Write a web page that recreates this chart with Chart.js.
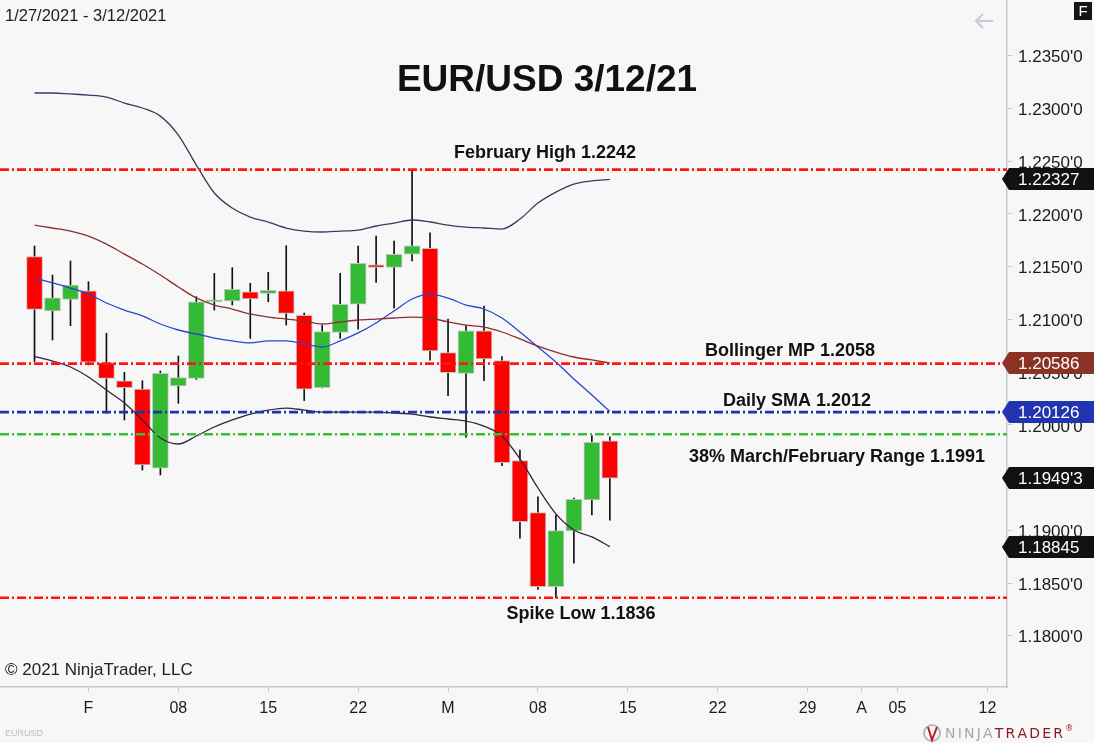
<!DOCTYPE html>
<html>
<head>
<meta charset="utf-8">
<script src="https://cdn.jsdelivr.net/npm/chart.js@4.4.1/dist/chart.umd.min.js"></script>
<style>
  html, body { margin: 0; padding: 0; background: #f7f7f7; }
  #wrap { width: 1094px; height: 743px; }
</style>
</head>
<body>
<div id="wrap"><canvas id="eurusd" width="1094" height="743"></canvas></div>
<script>
// trading days shown on the chart (x = index)
var dates = ["01-27","01-28","01-29","02-01","02-02","02-03","02-04","02-05","02-08","02-09","02-10","02-11","02-12",
  "02-15","02-16","02-17","02-18","02-19","02-22","02-23","02-24","02-25","02-26","03-01","03-02","03-03","03-04","03-05",
  "03-08","03-09","03-10","03-11","03-12"];

var open  = [1.21594,1.21079,1.21190,1.21271,1.20589,1.20418,1.20339,1.19588,1.20368,1.20441,1.21165,1.21174,1.21262,
  1.21247,1.21271,1.21038,1.20352,1.20877,1.21143,1.21518,1.21493,1.21619,1.21673,1.20684,1.20488,1.20892,1.20608,1.19660,
  1.19167,1.18465,1.18993,1.19287,1.19849];
var high  = [1.21695,1.21420,1.21553,1.21357,1.20868,1.20498,1.20418,1.20510,1.20652,1.21215,1.21436,1.21490,1.21342,
  1.21446,1.21698,1.21060,1.20942,1.21436,1.21695,1.21790,1.21743,1.22420,1.21821,1.21003,1.20940,1.21126,1.20646,1.19761,
  1.19318,1.19145,1.19306,1.19897,1.19887];
var low   = [1.20600,1.20804,1.20940,1.20567,1.20109,1.20046,1.19571,1.19524,1.20204,1.20430,1.21088,1.21136,1.20820,
  1.21167,1.20946,1.20230,1.20349,1.20820,1.20908,1.21351,1.21105,1.21553,1.20614,1.20276,1.19884,1.20418,1.19612,1.18924,
  1.18440,1.18358,1.18687,1.19145,1.19097];
var close = [1.21095,1.21205,1.21325,1.20593,1.20441,1.20352,1.19619,1.20488,1.20447,1.21167,1.21180,1.21285,1.21193,
  1.21275,1.21057,1.20338,1.20883,1.21143,1.21531,1.21493,1.21617,1.21698,1.20700,1.20494,1.20892,1.20624,1.19641,1.19081,
  1.18465,1.18996,1.19294,1.19834,1.19493];

// indicators
var bbUpper = [1.23146,1.23146,1.23137,1.23127,1.23108,1.23051,1.23004,1.22927,1.22747,1.22463,1.22198,1.22055,1.21970,
  1.21923,1.21866,1.21837,1.21828,1.21837,1.21847,1.21885,1.21913,1.21942,1.21923,1.21894,1.21875,1.21866,1.21856,1.21951,
  1.22103,1.22207,1.22283,1.22312,1.22327];
var bbMid = [1.21894,1.21866,1.21837,1.21790,1.21714,1.21619,1.21525,1.21420,1.21307,1.21203,1.21136,1.21098,1.21051,
  1.21022,1.21003,1.20984,1.20956,1.20975,1.20994,1.21003,1.21013,1.21022,1.21013,1.20975,1.20946,1.20927,1.20880,1.20814,
  1.20747,1.20690,1.20643,1.20615,1.20586];
var bbLower = [1.20650,1.20605,1.20548,1.20453,1.20330,1.20207,1.20046,1.19875,1.19818,1.19894,1.19979,1.20046,1.20102,
  1.20140,1.20159,1.20140,1.20121,1.20121,1.20121,1.20121,1.20112,1.20102,1.20074,1.20055,1.20036,1.19988,1.19894,1.19677,
  1.19401,1.19155,1.19003,1.18937,1.18845];
var sma = [1.21392,1.21345,1.21297,1.21240,1.21155,1.21088,1.21032,1.20956,1.20899,1.20861,1.20823,1.20795,1.20776,
  1.20795,1.20795,1.20766,1.20738,1.20795,1.20871,1.20966,1.21079,1.21193,1.21240,1.21202,1.21136,1.21098,1.21013,1.20880,
  1.20738,1.20596,1.20435,1.20283,1.20126];

// horizontal levels
var levelValues = [1.2242, 1.2058, 1.2012, 1.1991, 1.1836];
var levelLabels = ["February High 1.2242", "Bollinger MP 1.2058", "Daily SMA 1.2012",
  "38% March/February Range 1.1991", "Spike Low 1.1836"];

// right-edge value markers
var markerValues = [1.22327, 1.20586, 1.20126, 1.19493, 1.18845];
var markerLabels = ["1.22327", "1.20586", "1.20126", "1.1949'3", "1.18845"];

// axis ticks
var xTickIdx = [3, 8, 13, 18, 23, 28, 33, 38, 43, 46, 48, 53];
var xTickLabels = ["F", "08", "15", "22", "M", "08", "15", "22", "29", "A", "05", "12"];
var yTicks = [1.1800, 1.1850, 1.1900, 1.1950, 1.2000, 1.2050, 1.2100, 1.2150, 1.2200, 1.2250, 1.2300, 1.2350];

var X_MIN = -1.92, X_MAX = 54.09;
var Y_MIN = 1.17514, Y_MAX = 1.24028;

var UP = "#33bb33", DOWN = "#ff0000";

// styles for the level lines and their captions
var levelColors = ["#ff1414", "#ff1414", "#1c36a8", "#3cbc3c", "#ff1414"];
var captionX = [545, 790, 797, 837, 581];
var captionDy = [-12, -8, -6, 28, 21];
var markerColors = ["#111111", "#8a3324", "#2235b0", "#111111", "#111111"];

var bodies = dates.map(function (d, i) { return { x: i, y: [open[i], close[i]] }; });
var wicks = dates.map(function (d, i) { return { x: i, y: [low[i], high[i]] }; });
var candleColors = dates.map(function (d, i) { return close[i] >= open[i] ? UP : DOWN; });

function series(arr) {
    return arr.map(function (v, i) { return { x: i, y: v }; });
}

function lineSet(arr, color) {
    return {
        type: "line", data: series(arr), borderColor: color, borderWidth: 1.3,
        pointRadius: 0, fill: false, tension: 0.4, cubicInterpolationMode: "monotone", order: -1
    };
}

var datasets = [
    { label: "wicks", data: wicks, backgroundColor: "#111111", borderWidth: 0,
      barThickness: 1, grouped: false, order: 2 },
    { label: "bodies", data: bodies, backgroundColor: candleColors, borderColor: "#c4c4c4",
      borderWidth: 1, borderSkipped: false, barThickness: 16, minBarLength: 2, grouped: false, order: 1 },
    lineSet(bbUpper, "#50305e"),
    lineSet(bbMid, "#8b3030"),
    lineSet(bbLower, "#3a2040"),
    lineSet(sma, "#2548d0")
];

levelValues.forEach(function (v, i) {
    datasets.push({
        type: "line", data: [{ x: X_MIN, y: v }, { x: X_MAX, y: v }],
        borderColor: levelColors[i], borderWidth: 2.6, borderDash: [9, 3, 2, 3],
        pointRadius: 0, fill: false, order: -2
    });
});

var bgPlugin = {
    id: "bg",
    beforeDraw: function (chart) {
        var c = chart.ctx;
        c.save();
        c.fillStyle = "#f7f7f7";
        c.fillRect(0, 0, chart.width, chart.height);
        c.restore();
    }
};

var decorPlugin = {
    id: "decor",
    afterDraw: function (chart) {
        var c = chart.ctx, ys = chart.scales.y, W = chart.width;
        c.save();

        // title and header texts
        c.fillStyle = "#111";
        c.textAlign = "center";
        c.textBaseline = "alphabetic";
        c.font = "bold 37px 'Liberation Sans', Arial, sans-serif";
        c.fillText("EUR/USD 3/12/21", 547, 91);

        c.textAlign = "left";
        c.font = "16.5px 'Liberation Sans', Arial, sans-serif";
        c.fillStyle = "#222";
        c.fillText("1/27/2021 - 3/12/2021", 5, 21);
        c.font = "17px 'Liberation Sans', Arial, sans-serif";
        c.fillText("\u00a9 2021 NinjaTrader, LLC", 5, 675);
        c.font = "9px 'Liberation Sans', Arial, sans-serif";
        c.fillStyle = "#bdbdbd";
        c.fillText("EURUSD", 5, 736);

        // level captions
        c.fillStyle = "#111";
        c.textAlign = "center";
        c.font = "bold 18px 'Liberation Sans', Arial, sans-serif";
        levelValues.forEach(function (v, i) {
            c.fillText(levelLabels[i], captionX[i], ys.getPixelForValue(v) + captionDy[i]);
        });

        // value markers on the price axis
        c.font = "17px 'Liberation Sans', Arial, sans-serif";
        c.textAlign = "left";
        c.textBaseline = "middle";
        markerValues.forEach(function (v, i) {
            var y = Math.round(ys.getPixelForValue(v));
            c.fillStyle = markerColors[i];
            c.beginPath();
            c.moveTo(1002, y);
            c.lineTo(1009, y - 11);
            c.lineTo(W, y - 11);
            c.lineTo(W, y + 11);
            c.lineTo(1009, y + 11);
            c.closePath();
            c.fill();
            c.fillStyle = "#ffffff";
            c.fillText(markerLabels[i], 1018, y + 1);
        });

        // top right "F" box and arrow
        c.fillStyle = "#151515";
        c.fillRect(1074, 2, 18, 18);
        c.fillStyle = "#ffffff";
        c.textAlign = "center";
        c.font = "15px 'Liberation Sans', Arial, sans-serif";
        c.fillText("F", 1083, 12);
        c.strokeStyle = "#c6cbd6";
        c.lineWidth = 2;
        c.beginPath();
        c.moveTo(993, 21); c.lineTo(976, 21);
        c.moveTo(983, 14); c.lineTo(976, 21); c.lineTo(983, 28);
        c.stroke();

        // NinjaTrader logo
        c.lineWidth = 2;
        c.strokeStyle = "#b8b8b8";
        c.beginPath(); c.arc(932, 733, 8, 0, Math.PI * 2); c.stroke();
        c.strokeStyle = "#c0182a";
        c.beginPath(); c.moveTo(928, 727); c.lineTo(932, 740); c.lineTo(937, 727); c.stroke();
        c.font = "14px 'DejaVu Sans', sans-serif";
        c.textAlign = "left";
        var word = "NINJATRADER", x = 945;
        for (var k = 0; k < word.length; k++) {
            c.fillStyle = k < 5 ? "#a8a8a8" : "#8a1a2a";
            c.fillText(word[k], x, 734);
            x += c.measureText(word[k]).width + 2.2;
        }
        c.font = "8px 'DejaVu Sans', sans-serif";
        c.fillText("\u00ae", x, 729);
        c.restore();
    }
};

// drop the half-label padding Chart.js reserves at the scale ends
function noEndPadding(scale) {
    scale.paddingTop = 0;
    scale.paddingBottom = 0;
    scale.paddingLeft = 0;
    scale.paddingRight = 0;
}

new Chart(document.getElementById("eurusd"), {
    type: "bar",
    data: { datasets: datasets },
    options: {
        responsive: false,
        devicePixelRatio: 1,
        animation: false,
        layout: { padding: 0 },
        plugins: { legend: { display: false }, tooltip: { enabled: false } },
        scales: {
            x: {
                type: "linear", min: X_MIN, max: X_MAX, offset: false,
                afterBuildTicks: function (scale) {
                    scale.ticks = xTickIdx.map(function (v) { return { value: v }; });
                },
                afterFit: function (scale) { scale.height = 56; noEndPadding(scale); },
                ticks: {
                    autoSkip: false, maxRotation: 0, padding: 7, color: "#1a1a1a",
                    font: { family: "'Liberation Sans', Arial, sans-serif", size: 16 },
                    callback: function (v) {
                        var k = xTickIdx.indexOf(v);
                        return k >= 0 ? xTickLabels[k] : "";
                    }
                },
                grid: { drawOnChartArea: false, offset: false, tickLength: 5, color: "#c5c9d2" },
                border: { color: "#c5c9d2", width: 1.5 }
            },
            y: {
                type: "linear", position: "right", min: Y_MIN, max: Y_MAX,
                afterBuildTicks: function (scale) {
                    scale.ticks = yTicks.map(function (v) { return { value: v }; });
                },
                afterFit: function (scale) { scale.width = 87; noEndPadding(scale); },
                ticks: {
                    padding: 6, labelOffset: 2, color: "#1a1a1a",
                    font: { family: "'Liberation Sans', Arial, sans-serif", size: 17 },
                    callback: function (v) { return v.toFixed(4) + "'0"; }
                },
                grid: { drawOnChartArea: false, tickLength: 5, color: "#c5c9d2" },
                border: { color: "#c5c9d2", width: 1.5 }
            }
        }
    },
    plugins: [bgPlugin, decorPlugin]
});
</script>
</body>
</html>
